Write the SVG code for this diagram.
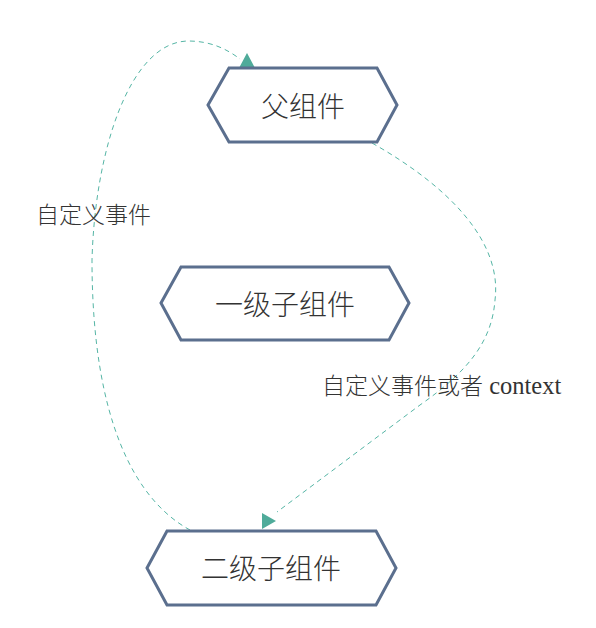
<svg xmlns="http://www.w3.org/2000/svg" width="596" height="628" viewBox="0 0 596 628">
<style>
.node{fill:#fff;stroke:#5b6f8e;stroke-width:3;stroke-linejoin:miter}
.title{font-family:"Liberation Serif","Noto Sans CJK SC",serif;font-size:28px;font-weight:300;fill:#333;text-anchor:middle}
.edge{fill:none;stroke:#55b5a5;stroke-width:1;stroke-dasharray:5,4}
.lbl{font-family:"Liberation Serif","Noto Sans CJK SC",serif;font-size:23px;font-weight:300;fill:#333}
.lat{font-size:24.5px;font-weight:normal}
.head{fill:#4fab9a}
</style>
<defs>
<marker id="hUp" markerUnits="userSpaceOnUse" markerWidth="16" markerHeight="16" viewBox="0 0 15 16" refX="9" refY="1" orient="-90" overflow="visible"><path class="head" d="M0,0 L15,8 L0,16 Z"/></marker>
<marker id="hRight" markerUnits="userSpaceOnUse" markerWidth="14" markerHeight="16" viewBox="0 0 14 16" refX="15" refY="-1" orient="0" overflow="visible"><path class="head" d="M0,0 L14,8 L0,16 Z"/></marker>
</defs>
<g id="connectors">
<path class="edge" d="M190,530 C135,500 92,420 92,260 C95,150 130,42 188,41 C212,41 228,50 240,59" marker-end="url(#hUp)"/>
<path class="edge" d="M372,143 C455,190 502,245 495,300 C492,340 470,370 420,405 L277,512" marker-end="url(#hRight)"/>
<text class="lbl" x="36" y="223">自定义事件</text>
<text class="lbl" x="322" y="394">自定义事件或者<tspan class="lat"> context</tspan></text>
</g>
<g id="parent">
<polygon class="node" points="208,105 229,68 377,68 397,105 377,142 229,142"/>
<text class="title" x="303" y="117">父组件</text>
</g>
<g id="child1">
<polygon class="node" points="161,303 181,267 389,267 409,303 389,340 181,340"/>
<text class="title" x="285" y="315">一级子组件</text>
</g>
<g id="child2">
<polygon class="node" points="147,568 167,531 376,531 396,568 376,605 167,605"/>
<text class="title" x="271" y="579">二级子组件</text>
</g>
</svg>
